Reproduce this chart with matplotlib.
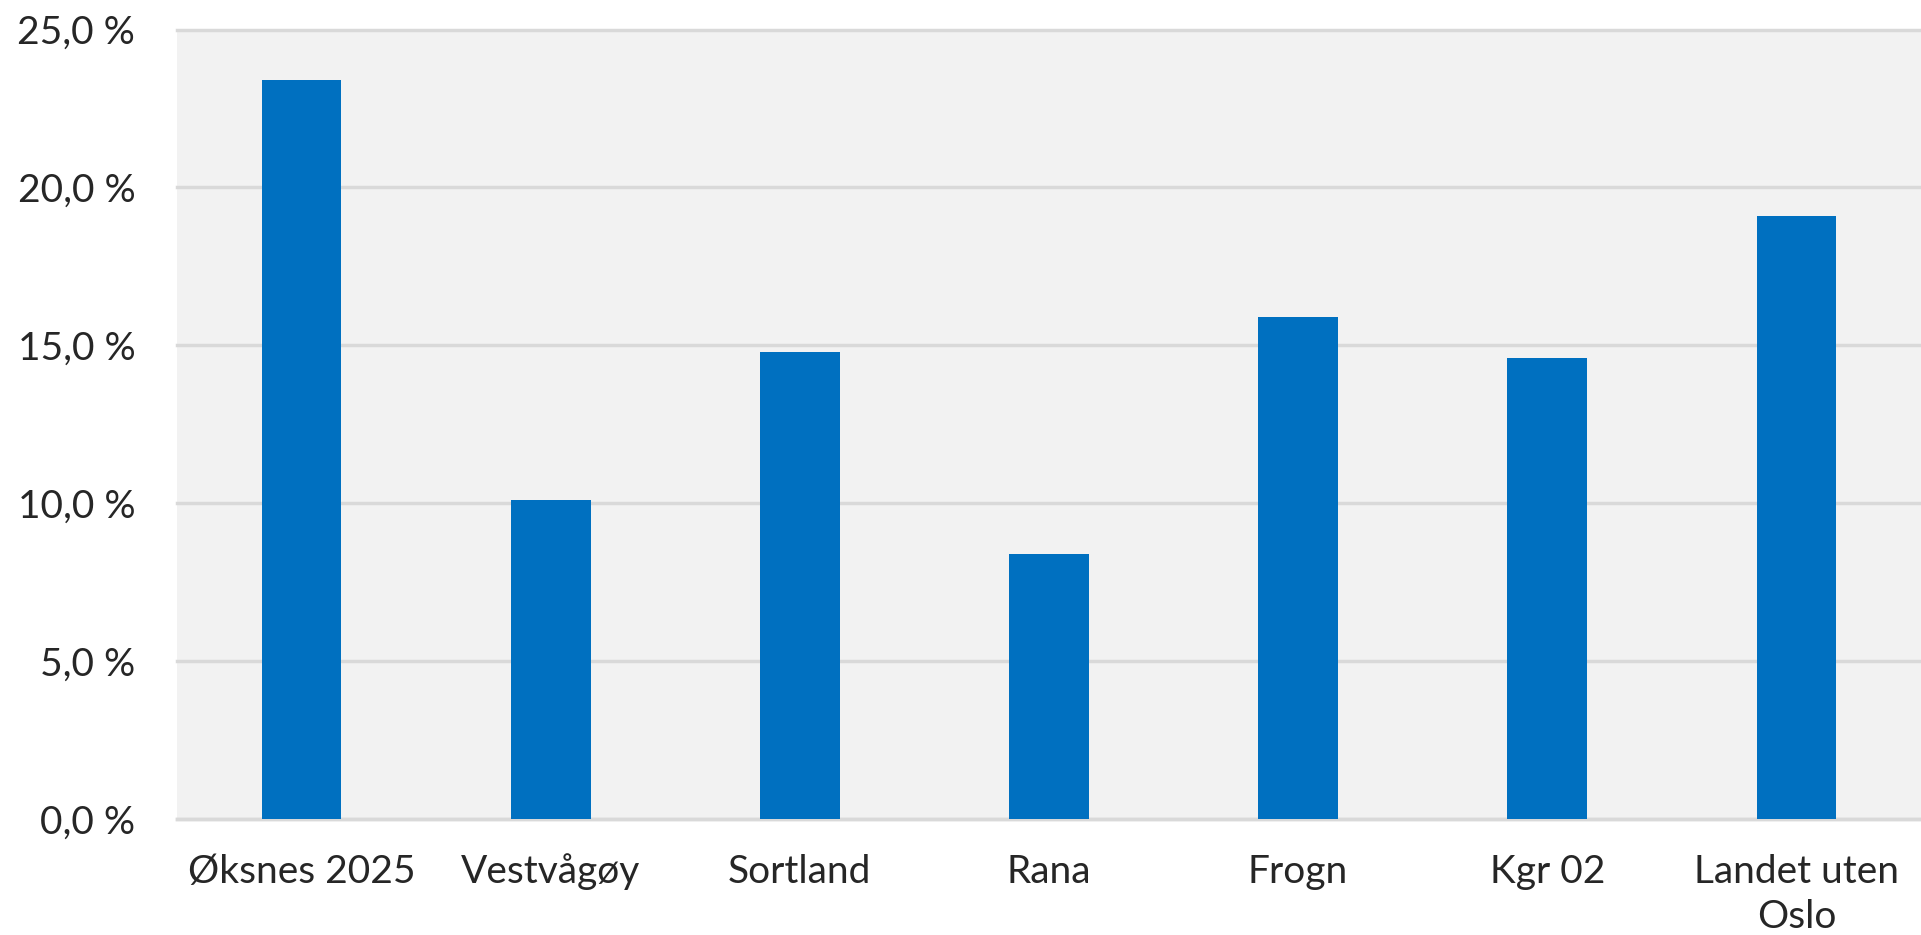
import matplotlib.pyplot as plt
from matplotlib.ticker import FuncFormatter

categories = ['Øksnes 2025', 'Vestvågøy', 'Sortland', 'Rana', 'Frogn', 'Kgr 02', 'Landet uten\nOslo']
values = [23.4, 10.1, 14.8, 8.4, 15.9, 14.6, 19.1]
yticks = [0, 5, 10, 15, 20, 25]

plt.rcParams['font.family'] = ['Lato', 'DejaVu Sans']

fig = plt.figure(figsize=(19.21, 9.35), dpi=100)
ax = fig.add_axes([0.0921, 0.124, 0.9079, 0.8444])
ax.set_facecolor('#F2F2F2')

x = range(len(categories))
ax.bar(x, values, width=0.32, color='#0070C0', zorder=3)

ax.set_xlim(-0.5, len(categories) - 0.5)
ax.set_ylim(0, 25)
ax.set_yticks(yticks)
ax.yaxis.set_major_formatter(FuncFormatter(lambda v, p: f'{v:.1f} %'.replace('.', ',')))
ax.set_xticks(list(x))
ax.set_xticklabels(categories, va='baseline', linespacing=1.32)

ax.yaxis.grid(True, color='#D9D9D9', linewidth=2.5, zorder=1)
for line in ax.get_ygridlines():
    line.set_clip_on(False)

for s in ['top', 'right', 'left']:
    ax.spines[s].set_visible(False)
ax.spines['bottom'].set_color('#D9D9D9')
ax.spines['bottom'].set_linewidth(2.5)

ax.tick_params(axis='both', length=0, labelsize=28, colors='#262626')
ax.tick_params(axis='y', pad=30)
ax.tick_params(axis='x', pad=46)

# label på to linjer: topp-justert så første linje står på samme grunnlinje
last = ax.xaxis.get_major_ticks()[-1]
last.label1.set_va('top')
last.set_pad(25.3)

fig.savefig('out.png', dpi=100)
